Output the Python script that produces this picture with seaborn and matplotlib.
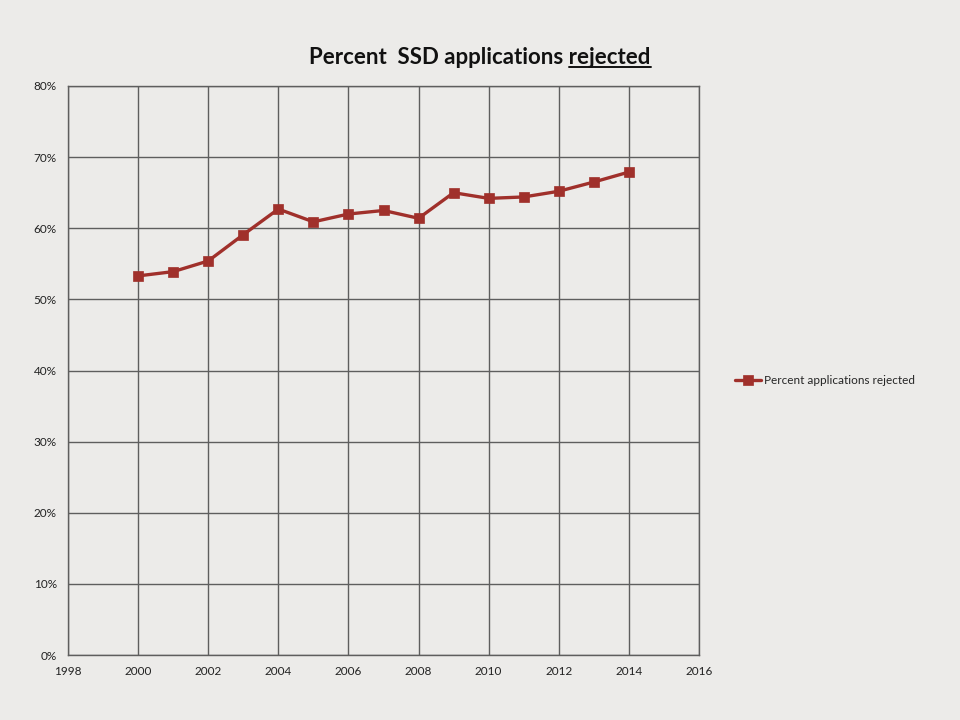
import matplotlib
matplotlib.use("Agg")
import matplotlib.pyplot as plt
import seaborn as sns
import pandas as pd
from matplotlib.lines import Line2D

years = [2000, 2001, 2002, 2003, 2004, 2005, 2006, 2007, 2008, 2009, 2010, 2011, 2012, 2013, 2014]
pct_rejected = [53.3, 53.9, 55.4, 59.1, 62.7, 60.9, 62.0, 62.5, 61.4, 65.0, 64.2, 64.4, 65.2, 66.5, 67.9]
series_name = "Percent applications rejected"
x_ticks = [1998, 2000, 2002, 2004, 2006, 2008, 2010, 2012, 2014, 2016]
y_ticks = [0, 10, 20, 30, 40, 50, 60, 70, 80]
title_prefix = "Percent  SSD applications "
title_under = "rejected"

df = pd.DataFrame({"Year": years, "Pct": pct_rejected, "Series": series_name})

sns.set_style("white")
plt.rcParams['font.family'] = ['Lato', 'DejaVu Sans']

bg = "#ecebe9"
fig = plt.figure(figsize=(9.6, 7.2), dpi=100, facecolor=bg)
ax = fig.add_axes([68/960, 1-655/720, (699-68)/960, (655-86)/720])
ax.set_facecolor(bg)

color = "#a0302b"
sns.lineplot(data=df, x="Year", y="Pct", hue="Series", palette=[color], ax=ax,
             marker="s", markersize=7, linewidth=2.4, markeredgecolor=color,
             markeredgewidth=0.5)

ax.set_xlim(1998, 2016)
ax.set_ylim(0, 80)
ax.set_xticks(x_ticks)
ax.set_yticks(y_ticks)
ax.set_yticklabels([f"{v}%" for v in y_ticks])
ax.set_xlabel("")
ax.set_ylabel("")
ax.grid(True, color="#5e5e5e", linewidth=1.0)
ax.set_axisbelow(True)
for s in ax.spines.values():
    s.set_color("#5e5e5e")
    s.set_linewidth(1.0)
ax.tick_params(axis="both", direction="out", length=4, width=1, color="#5e5e5e",
               labelsize=8.5, labelcolor="#222222", pad=4)

leg = ax.legend(loc="center left", bbox_to_anchor=(1.04, 0.483), frameon=False,
                fontsize=8.5, handlelength=2.2, handletextpad=0.3)

# Title with underline on the last word
fs = 16
title_full = title_prefix + title_under
t = fig.text(0.5, 1-57/720, title_full, ha="center", va="center",
             fontsize=fs, fontweight="bold", color="#111111")
fig.canvas.draw()
r = fig.canvas.get_renderer()
bb = t.get_window_extent(renderer=r)
tmp = fig.text(0, 0, title_under, fontsize=fs, fontweight="bold")
w_under = tmp.get_window_extent(renderer=r).width
tmp.remove()
x1 = bb.x1
x0 = bb.x1 - w_under
y_line = bb.y0 + 1
W, H = fig.bbox.width, fig.bbox.height
fig.add_artist(Line2D([x0 / W, x1 / W], [y_line / H, y_line / H],
                      color="#111111", linewidth=1.4, transform=fig.transFigure))

fig.savefig("out.png", dpi=100, facecolor=bg)
